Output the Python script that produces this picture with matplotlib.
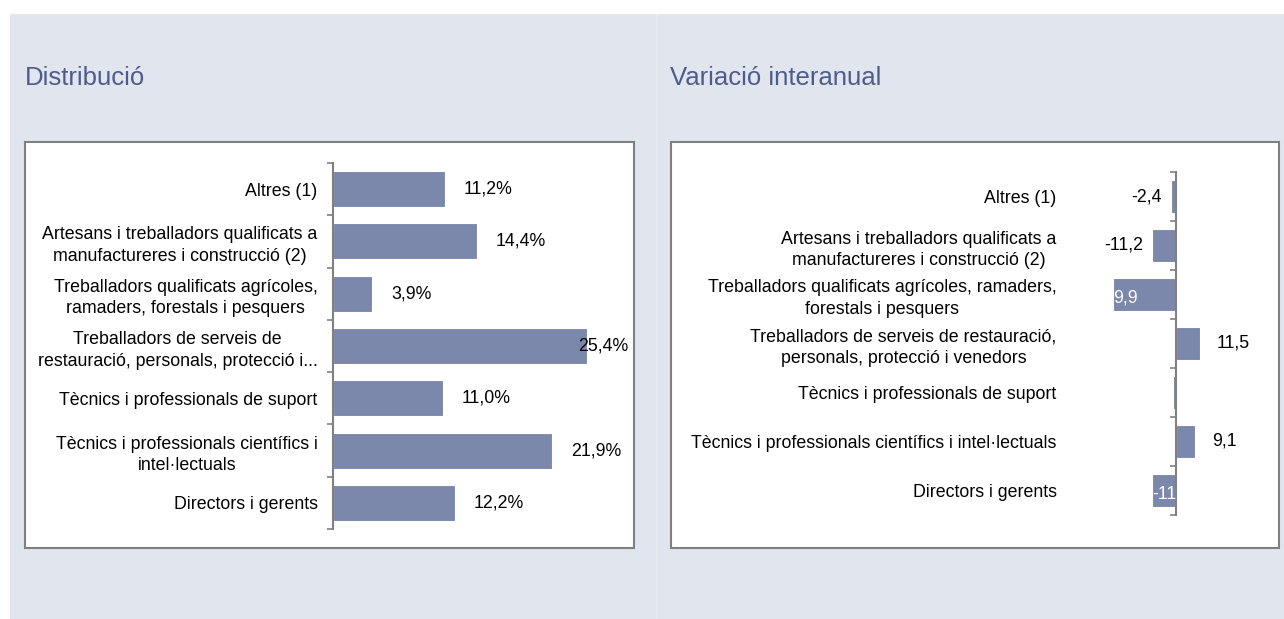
import matplotlib.pyplot as plt
import matplotlib.patches as mpatches
import numpy as np

# ==== dades ====
categories_dist = [
    "Altres (1)",
    "Artesans i treballadors qualificats a\nmanufactureres i construcció (2)",
    "Treballadors qualificats agrícoles,\nramaders, forestals i pesquers",
    "Treballadors de serveis de\nrestauració, personals, protecció i...",
    "Tècnics i professionals de suport",
    "Tècnics i professionals científics i\nintel·lectuals",
    "Directors i gerents",
]
dist_values = [11.2, 14.4, 3.9, 25.4, 11.0, 21.9, 12.2]
dist_labels = ["11,2%", "14,4%", "3,9%", "25,4%", "11,0%", "21,9%", "12,2%"]

categories_var = [
    "Altres (1)",
    "Artesans i treballadors qualificats a\nmanufactureres i construcció (2)",
    "Treballadors qualificats agrícoles, ramaders,\nforestals i pesquers",
    "Treballadors de serveis de restauració,\npersonals, protecció i venedors",
    "Tècnics i professionals de suport",
    "Tècnics i professionals científics i intel·lectuals",
    "Directors i gerents",
]
var_values = [-2.4, -11.2, -29.9, 11.5, -1.3, 9.1, -11.3]
var_labels = ["-2,4", "-11,2", "9,9", "11,5", "", "9,1", "-11"]
var_inside = [False, False, True, False, False, False, True]

# ==== estil ====
W, H = 1284, 619
BAR = "#7B87AB"
PANEL = "#E1E5EE"
TITLE = "#4E5B8C"
AXIS = "#808080"
FONT = ["Liberation Sans", "DejaVu Sans"]
FS = 12.8
plt.rcParams["font.family"] = FONT

fig = plt.figure(figsize=(W / 100, H / 100), dpi=100)
fig.patch.set_facecolor("white")


def fx(px):
    return px / W


def fy(py):
    return 1 - py / H


def rect(x0, y0, x1, y1, **kw):
    fig.patches.append(mpatches.Rectangle((fx(x0), fy(y1)), fx(x1 - x0), (y1 - y0) / H,
                                          transform=fig.transFigure, zorder=-5, **kw))


# fons dels panells
rect(10, 14, 1284, 619, facecolor=PANEL, edgecolor="none")
fig.add_artist(plt.Line2D([fx(655.5), fx(655.5)], [fy(14), fy(619)], color="#EAEDF3",
                          linewidth=1, transform=fig.transFigure, zorder=-4))
# quadres blancs
rect(25, 142, 634, 548, facecolor="white", edgecolor="#7F7F7F", linewidth=1.5)
rect(671, 142, 1279, 548, facecolor="white", edgecolor="#7F7F7F", linewidth=1.5)

fig.text(fx(25), fy(78), "Distribució", fontsize=18.5, color=TITLE, va="center", ha="left")
fig.text(fx(670), fy(78), "Variació interanual", fontsize=18.5, color=TITLE, va="center", ha="left")


def setup_axis(ax, cats, pad):
    n = len(cats)
    ypos = np.arange(n)
    ax.set_ylim(n - 0.5, -0.5)
    ax.set_yticks(np.arange(n + 1) - 0.5)
    ax.set_yticklabels([])
    ax.set_yticks(ypos, minor=True)
    ax.set_yticklabels(cats, minor=True, fontsize=FS)
    for t in ax.get_yticklabels(minor=True):
        t.set_multialignment("center")
        t.set_linespacing(1.35)
    ax.tick_params(axis="y", which="major", length=4, width=1.2, color=AXIS, direction="out")
    ax.tick_params(axis="y", which="minor", length=0, pad=pad)
    ax.set_xticks([])
    for s in ["top", "right", "bottom"]:
        ax.spines[s].set_visible(False)
    ax.spines["left"].set_color(AXIS)
    ax.spines["left"].set_linewidth(1.5)
    ax.patch.set_alpha(0)
    return ypos


# ==== Distribució ====
ax1 = fig.add_axes([fx(333), fy(529), fx(628 - 333), (529 - 163) / H])
y1 = setup_axis(ax1, categories_dist, pad=11)
xmax1 = 29.5
ax1.set_xlim(0, xmax1)
ax1.barh(y1, dist_values, height=0.69, color=BAR, edgecolor="white", linewidth=0.8, zorder=2)
for yy, v, lab in zip(y1, dist_values, dist_labels):
    if v + 1.9 + 5 > xmax1:
        ax1.text(xmax1, yy, lab, ha="right", va="center", fontsize=FS, zorder=3)
    else:
        ax1.text(v + 1.9, yy, lab, ha="left", va="center", fontsize=FS, zorder=3)

# ==== Variació interanual ====
ax2 = fig.add_axes([fx(1113), fy(515), fx(1260 - 1113), (515 - 172) / H])
ax2.set_xlim(-30, 40)
ax2.spines["left"].set_position(("data", 0))
y2 = setup_axis(ax2, categories_var, pad=86)
ax2.barh(y2, var_values, height=0.69, color=BAR, edgecolor="white", linewidth=0.8, zorder=2)
for yy, v, lab, ins in zip(y2, var_values, var_labels, var_inside):
    if not lab:
        continue
    if ins:
        ax2.text(v, yy + 0.08, lab, ha="left", va="center", fontsize=FS, color="white", zorder=3)
    elif v < 0:
        ax2.text(v - 4.5, yy, lab, ha="right", va="center", fontsize=FS, zorder=3)
    else:
        ax2.text(v + 8, yy, lab, ha="left", va="center", fontsize=FS, zorder=3)

fig.savefig("out.png", dpi=100)
